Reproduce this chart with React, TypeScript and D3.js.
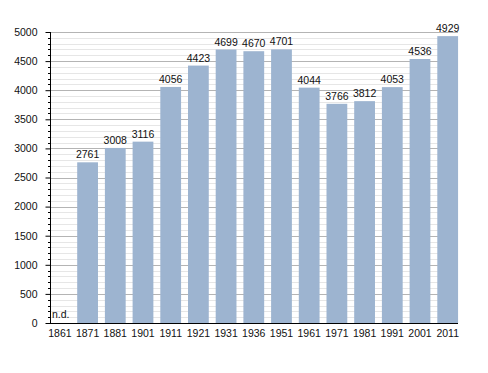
import { useEffect, useRef } from "react";
import * as d3 from "d3";

const years = ["1861", "1871", "1881", "1901", "1911", "1921", "1931", "1936", "1951", "1961", "1971", "1981", "1991", "2001", "2011"];
const population: (number | null)[] = [null, 2761, 3008, 3116, 4056, 4423, 4699, 4670, 4701, 4044, 3766, 3812, 4053, 4536, 4929];
const majorTicks = [0, 500, 1000, 1500, 2000, 2500, 3000, 3500, 4000, 4500, 5000];

const width = 488;
const height = 373;

export default function App() {
  const svgRef = useRef<SVGSVGElement>(null);

  useEffect(() => {
    if (!svgRef.current) return;
    const svg = d3.select(svgRef.current);
    svg.selectAll("*").remove();

    const left = 50;
    const right = 458;
    const font = "'Liberation Sans', Arial, sans-serif";
    const fontSize = "10.5px";

    const y = d3.scaleLinear().domain([0, 5000]).range([323, 32]);
    const x = d3
      .scaleBand<string>()
      .domain(years)
      .range([49.5, 49.5 + 15 * 27.7])
      .paddingInner(0.25)
      .paddingOuter(0.125)
      .align(0);

    const minor = d3.range(0, 5001, 100).filter((v) => v % 500 !== 0);

    // minor grid
    svg
      .append("g")
      .selectAll("line")
      .data(minor)
      .join("line")
      .attr("x1", left)
      .attr("x2", right)
      .attr("y1", (d) => Math.round(y(d)) + 0.5)
      .attr("y2", (d) => Math.round(y(d)) + 0.5)
      .attr("stroke", "#e6e6e6")
      .attr("stroke-width", 1);

    // major grid
    svg
      .append("g")
      .selectAll("line")
      .data(majorTicks.filter((d) => d > 0))
      .join("line")
      .attr("x1", left)
      .attr("x2", right)
      .attr("y1", (d) => Math.round(y(d)) + 0.5)
      .attr("y2", (d) => Math.round(y(d)) + 0.5)
      .attr("stroke", "#b4b4b4")
      .attr("stroke-width", 1);

    // bars
    const data = years.map((yr, i) => ({ yr, v: population[i] }));
    svg
      .append("g")
      .selectAll("rect")
      .data(data.filter((d) => d.v !== null))
      .join("rect")
      .attr("x", (d) => x(d.yr)!)
      .attr("width", x.bandwidth())
      .attr("y", (d) => y(d.v as number))
      .attr("height", (d) => y(0) - y(d.v as number))
      .attr("fill", "#9db4d0");

    // value labels
    svg
      .append("g")
      .selectAll("text")
      .data(data.filter((d) => d.v !== null))
      .join("text")
      .attr("x", (d) => x(d.yr)! + x.bandwidth() / 2)
      .attr("y", (d) => y(d.v as number) - 4)
      .attr("text-anchor", "middle")
      .style("font-family", font)
      .style("font-size", fontSize)
      .style("fill", "#111")
      .text((d) => String(d.v));

    svg
      .append("text")
      .attr("x", 52)
      .attr("y", 318)
      .style("font-family", font)
      .style("font-size", fontSize)
      .style("fill", "#111")
      .text("n.d.");

    // y axis
    const yAxis = svg
      .append("g")
      .attr("transform", `translate(${left + 0.5},0)`)
      .call(
        d3
          .axisLeft(y)
          .tickValues(majorTicks)
          .tickFormat(d3.format("d"))
          .tickSize(5)
          .tickPadding(8)
      );
    yAxis.select(".domain").remove();
    yAxis
      .selectAll("text")
      .style("font-family", font)
      .style("font-size", fontSize)
      .style("fill", "#111");
    yAxis.selectAll(".tick line").attr("stroke", "#000");

    svg
      .append("g")
      .selectAll("line")
      .data(minor)
      .join("line")
      .attr("x1", left - 2)
      .attr("x2", left)
      .attr("y1", (d) => Math.round(y(d)) + 0.5)
      .attr("y2", (d) => Math.round(y(d)) + 0.5)
      .attr("stroke", "#000");

    svg
      .append("line")
      .attr("x1", left + 0.5)
      .attr("x2", left + 0.5)
      .attr("y1", y(5000))
      .attr("y2", y(0))
      .attr("stroke", "#000");

    // x axis
    svg
      .append("line")
      .attr("x1", left)
      .attr("x2", right)
      .attr("y1", Math.round(y(0)) + 0.5)
      .attr("y2", Math.round(y(0)) + 0.5)
      .attr("stroke", "#000");

    svg
      .append("g")
      .selectAll("text")
      .data(years)
      .join("text")
      .attr("x", (d) => x(d)! + x.bandwidth() / 2)
      .attr("y", 337)
      .attr("text-anchor", "middle")
      .style("font-family", font)
      .style("font-size", fontSize)
      .style("fill", "#111")
      .text((d) => d);
  }, []);

  return (
    <svg
      ref={svgRef}
      width={width}
      height={height}
      style={{ position: "absolute", left: 0, top: 0, background: "#fff" }}
    />
  );
}
